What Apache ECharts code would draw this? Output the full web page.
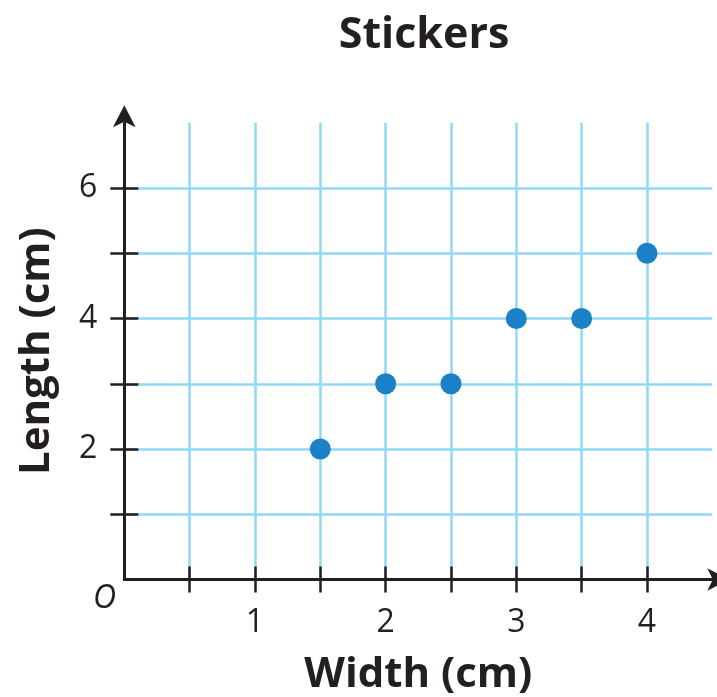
<!DOCTYPE html>
<html>
<head>
<meta charset="utf-8">
<script src="https://cdn.jsdelivr.net/npm/echarts@6/dist/echarts.min.js"></script>
<style>html,body{margin:0;padding:0;background:#fff;}#c{width:717px;height:697px;}</style>
</head>
<body>
<div id="c"></div>
<script>
const titleText = 'Stickers';
const xName = 'Width (cm)';
const yName = 'Length (cm)';
const widths = [1.5, 2, 2.5, 3, 3.5, 4];
const lengths = [2, 3, 3, 4, 4, 5];
const xTicks = [0.5, 1, 1.5, 2, 2.5, 3, 3.5, 4];
const xLabels = [1, 2, 3, 4];
const yTicks = [1, 2, 3, 4, 5, 6];
const yLabels = [2, 4, 6];
const xMax = 4.5, yMax = 7;

const ink = '#231f20';
const gridBlue = '#90d8f6';
const dotBlue = '#1a80c8';
const font = '"Open Sans", "Noto Sans", sans-serif';

const chart = echarts.init(document.getElementById('c'));
const gridBox = {left: 124.3, right: 4.7, top: 122.75, bottom: 117.5, containLabel: false, outerBoundsMode: 'none'};

function baseX(extra) {
  return Object.assign({
    type: 'value', min: 0, max: xMax, position: 'bottom', gridIndex: 0
  }, extra);
}
function baseY(extra) {
  return Object.assign({
    type: 'value', min: 0, max: yMax, position: 'left', gridIndex: 0
  }, extra);
}

chart.setOption({
  animation: false,
  backgroundColor: '#fff',
  title: {
    text: titleText, left: 419, top: 9, textAlign: 'center',
    textStyle: {fontFamily: font, fontWeight: 'bold', fontSize: 43, color: ink}
  },
  grid: gridBox,
  xAxis: [
    baseX({
      name: xName, nameLocation: 'middle', nameGap: 75,
      nameTextStyle: {fontFamily: font, fontWeight: 'bold', fontSize: 42, color: ink},
      axisLine: {show: true, lineStyle: {color: ink, width: 3}, symbol: ['none', 'arrow'], symbolSize: [17, 22], symbolOffset: [0, 17]},
      axisTick: {show: true, inside: false, length: 13, customValues: xTicks, lineStyle: {color: ink, width: 2.5}},
      axisLabel: {show: true, customValues: xLabels, margin: 27, fontFamily: font, fontSize: 32, color: ink},
      splitLine: {show: true, showMinLine: true, showMaxLine: true, lineStyle: {color: gridBlue, width: 2.5}}
    }),
    baseX({
      axisLine: {show: false},
      axisTick: {show: true, inside: true, length: 13, customValues: xTicks, lineStyle: {color: ink, width: 2.5}},
      axisLabel: {show: false},
      splitLine: {show: false}
    })
  ],
  yAxis: [
    baseY({
      name: yName, nameLocation: 'middle', nameGap: 66,
      nameTextStyle: {fontFamily: font, fontWeight: 'bold', fontSize: 42, color: ink},
      axisLine: {show: true, lineStyle: {color: ink, width: 3}, symbol: ['none', 'arrow'], symbolSize: [17, 22], symbolOffset: [0, 17.5]},
      axisTick: {show: true, inside: false, length: 14, customValues: yTicks, lineStyle: {color: ink, width: 2.5}},
      axisLabel: {show: true, customValues: yLabels, margin: 27, fontFamily: font, fontSize: 32, color: ink},
      splitLine: {show: true, showMinLine: true, showMaxLine: true, lineStyle: {color: gridBlue, width: 2.5}}
    }),
    baseY({
      axisLine: {show: false},
      axisTick: {show: true, inside: true, length: 14, customValues: yTicks, lineStyle: {color: ink, width: 2.5}},
      axisLabel: {show: false},
      splitLine: {show: false}
    })
  ],
  graphic: [{
    type: 'text', left: 93, top: 583,
    style: {text: 'O', fontFamily: font, fontStyle: 'italic', fontSize: 32, fill: ink}
  }],
  series: [{
    type: 'scatter', xAxisIndex: 0, yAxisIndex: 0,
    data: widths.map((w, i) => [w, lengths[i]]),
    symbol: 'circle', symbolSize: 21,
    itemStyle: {color: dotBlue, opacity: 1},
    z: 5
  }]
});
</script>
</body>
</html>
